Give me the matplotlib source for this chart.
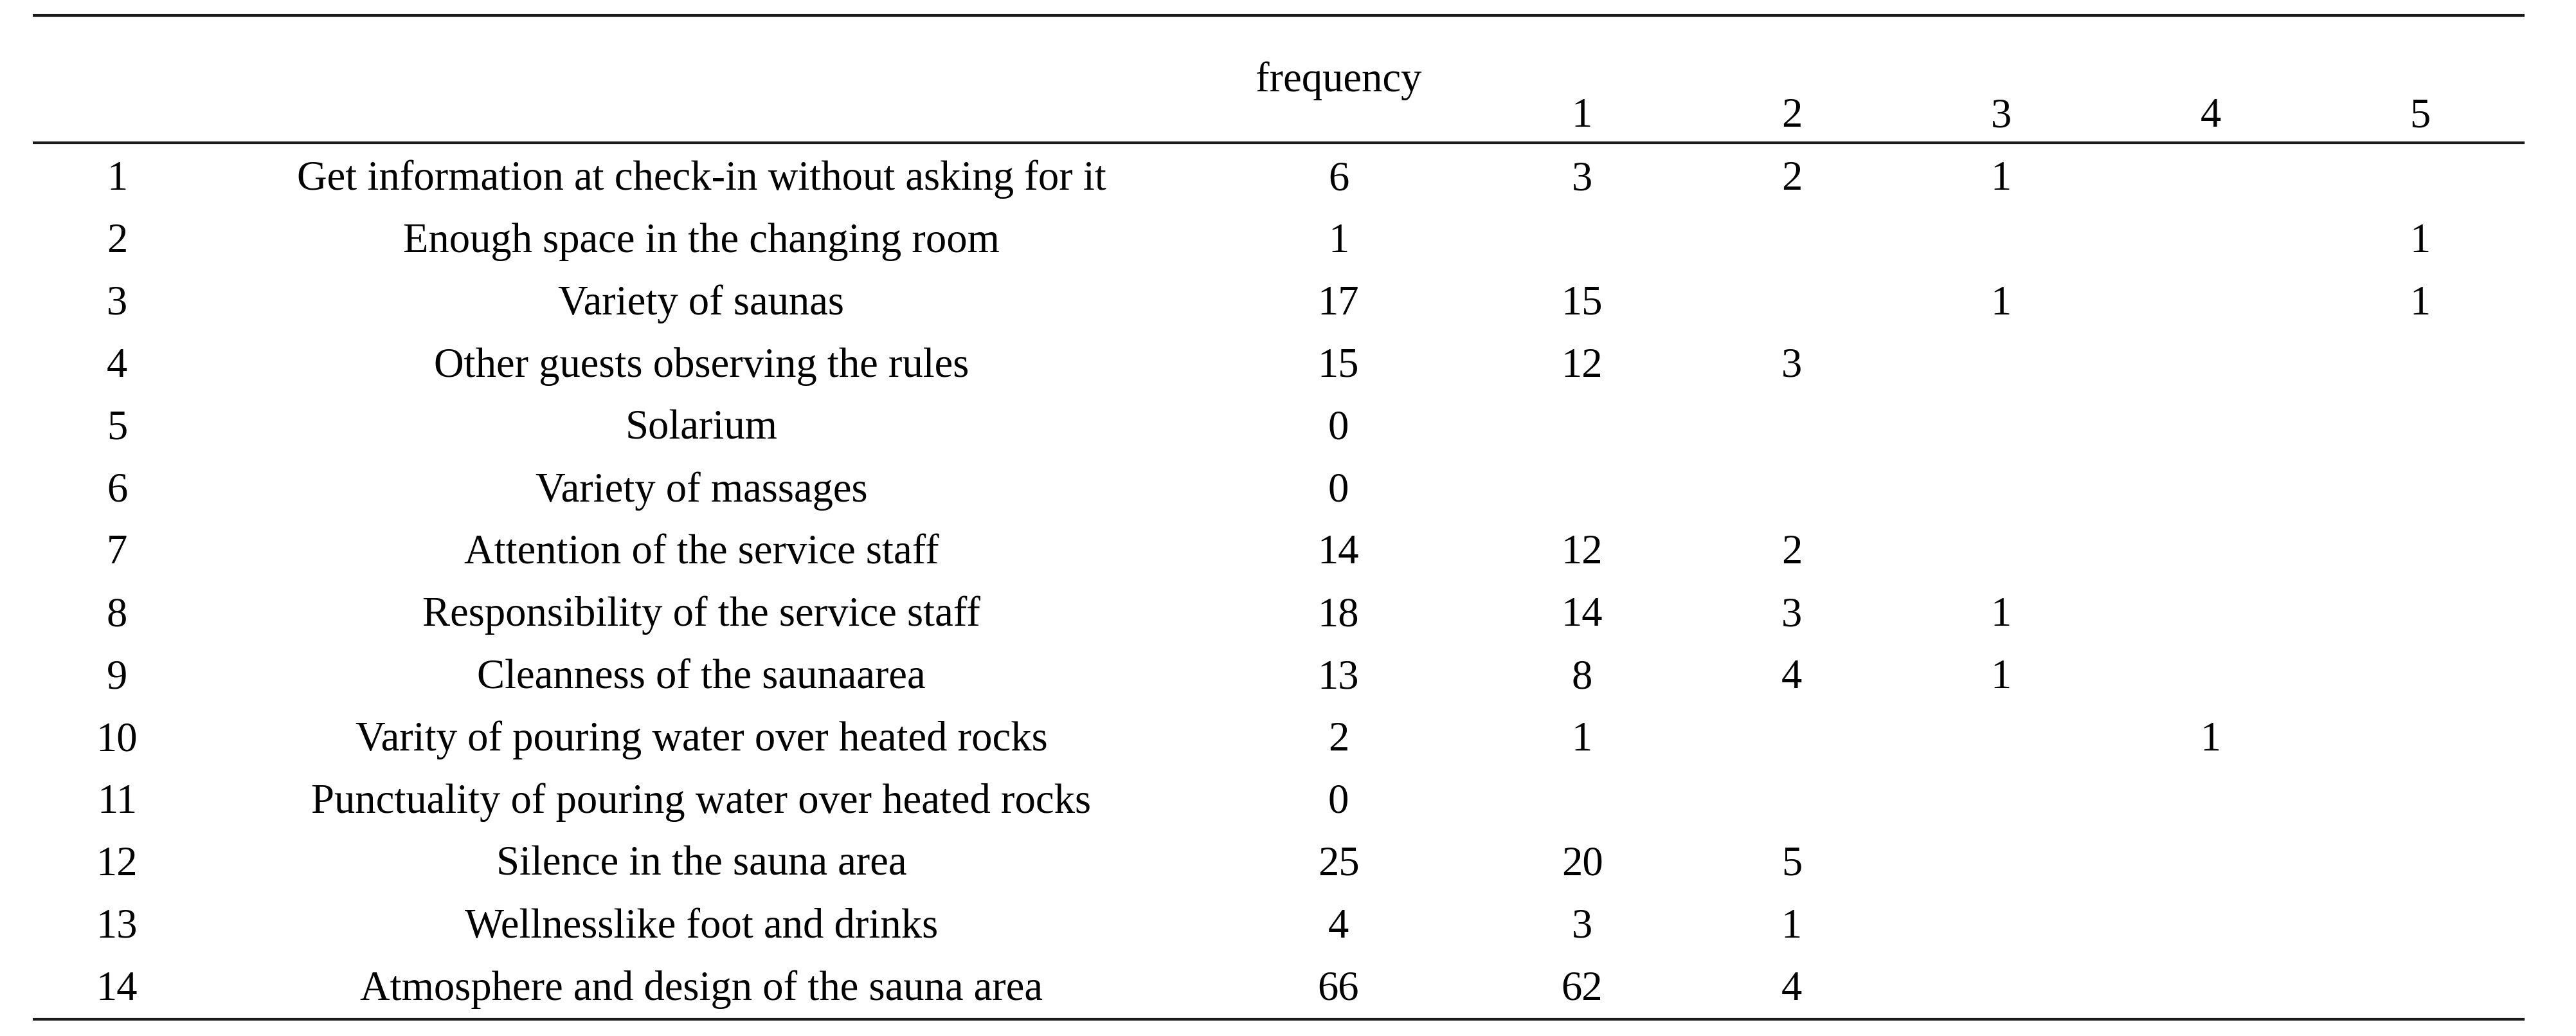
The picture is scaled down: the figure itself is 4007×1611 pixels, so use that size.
import matplotlib.pyplot as plt

plt.rcParams['font.family'] = ['Liberation Serif', 'DejaVu Serif']

# table content
row_ids = list(range(1, 15))
items = [
    "Get information at check-in without asking for it",
    "Enough space in the changing room",
    "Variety of saunas",
    "Other guests observing the rules",
    "Solarium",
    "Variety of massages",
    "Attention of the service staff",
    "Responsibility of the service staff",
    "Cleanness of the saunaarea",
    "Varity of pouring water over heated rocks",
    "Punctuality of pouring water over heated rocks",
    "Silence in the sauna area",
    "Wellnesslike foot and drinks",
    "Atmosphere and design of the sauna area",
]
frequency = [6, 1, 17, 15, 0, 0, 14, 18, 13, 2, 0, 25, 4, 66]
rank_labels = ["1", "2", "3", "4", "5"]
rank_1 = [3, None, 15, 12, None, None, 12, 14, 8, 1, None, 20, 3, 62]
rank_2 = [2, None, None, 3, None, None, 2, 3, 4, None, None, 5, 1, 4]
rank_3 = [1, None, 1, None, None, None, None, 1, 1, None, None, None, None, None]
rank_4 = [None, None, None, None, None, None, None, None, None, 1, None, None, None, None]
rank_5 = [None, 1, 1, None, None, None, None, None, None, None, None, None, None, None]

W, H = 4007, 1611
fig = plt.figure(figsize=(W / 100, H / 100), dpi=100)
ax = fig.add_axes([0, 0, 1, 1])
ax.set_xlim(0, W)
ax.set_ylim(H, 0)
ax.axis('off')

fs = 46.5
x_id, x_item, x_freq = 182, 1091, 2082
x_ranks = [2461, 2787, 3113, 3439, 3764]
y_first, row_step = 295, 96.9

# rules
lw = 3.0
for y in (24, 222, 1585):
    ax.plot([51, 3927], [y, y], color='#1a1a1a', lw=lw, solid_capstyle='butt')

# header
ax.text(x_freq, 142, "frequency", fontsize=fs, ha='center', va='baseline')
for x, lab in zip(x_ranks, rank_labels):
    ax.text(x, 197, lab, fontsize=fs, ha='center', va='baseline')

# body
ranks = [rank_1, rank_2, rank_3, rank_4, rank_5]
for i in range(len(items)):
    y = y_first + i * row_step
    ax.text(x_id, y, str(row_ids[i]), fontsize=fs, ha='center', va='baseline')
    ax.text(x_item, y, items[i], fontsize=fs, ha='center', va='baseline')
    ax.text(x_freq, y, str(frequency[i]), fontsize=fs, ha='center', va='baseline')
    for x, col in zip(x_ranks, ranks):
        if col[i] is not None:
            ax.text(x, y, str(col[i]), fontsize=fs, ha='center', va='baseline')

fig.savefig('out.png', dpi=100, facecolor='white')
